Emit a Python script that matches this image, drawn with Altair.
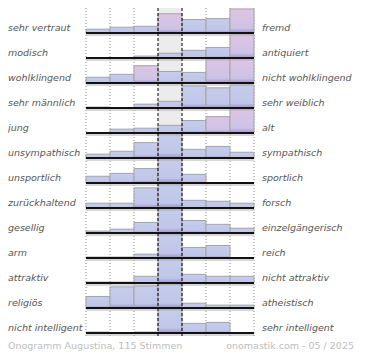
import altair as alt
import pandas as pd

left_labels = ["sehr vertraut", "modisch", "wohlklingend", "sehr männlich", " jung",
               "unsympathisch", "unsportlich", "zurückhaltend", "gesellig", "arm",
               "attraktiv", "religiös", "nicht intelligent"]
right_labels = ["fremd", "antiquiert", "nicht wohlklingend", "sehr weiblich", "alt",
                "sympathisch", "sportlich", "forsch", "einzelgängerisch", "reich",
                "nicht attraktiv", "atheistisch", "sehr intelligent"]

# estimated vote shares (%) for the 7 scale steps of each row
shares = [
    [4, 6, 7, 20, 14, 15, 34],
    [0, 0, 2, 5, 8, 11, 74],
    [6, 9, 18, 12, 11, 27, 27],
    [1, 0, 4, 7, 23, 21, 24],
    [0, 4, 5, 8, 13, 17, 53],
    [4, 7, 16, 47, 9, 12, 6],
    [7, 10, 15, 60, 9, 0, 0],
    [5, 5, 21, 49, 8, 7, 5],
    [2, 4, 11, 58, 13, 9, 5],
    [1, 1, 4, 70, 11, 13, 0],
    [1, 1, 7, 69, 9, 7, 7],
    [12, 22, 23, 32, 5, 3, 3],
    [1, 0, 1, 77, 10, 11, 0],
]
# bar tint: "p" = pinkish, "b" = bluish
tones = [
    ["b", "b", "b", "p", "b", "b", "p"],
    ["b", "b", "b", "b", "b", "b", "p"],
    ["b", "b", "p", "b", "b", "p", "p"],
    ["b", "b", "b", "b", "b", "b", "b"],
    ["b", "b", "b", "b", "b", "p", "p"],
    ["b", "b", "b", "b", "b", "b", "b"],
    ["b", "b", "b", "b", "b", "b", "b"],
    ["b", "b", "b", "b", "b", "b", "b"],
    ["b", "b", "b", "b", "b", "b", "b"],
    ["b", "b", "b", "b", "b", "b", "b"],
    ["b", "b", "b", "b", "b", "b", "b"],
    ["b", "b", "b", "b", "b", "b", "b"],
    ["b", "b", "b", "b", "b", "b", "b"],
]
footer_left = "Onogramm Augustina, 115 Stimmen"
footer_right = "onomastik.com - 05 / 2025"

n_rows = len(left_labels)
n_cols = len(shares[0])
mid = n_cols // 2
cap = 25  # share that fills one row

bars = pd.DataFrame([
    {"row": r, "col": c, "share": shares[r][c], "tone": tones[r][c]}
    for r in range(n_rows) for c in range(n_cols) if shares[r][c] > 0
])
rows_df = pd.DataFrame({"row": list(range(n_rows)), "left": left_labels,
                        "right": right_labels, "x0": 0, "x1": n_cols})
dotted_df = pd.DataFrame({"b": [b for b in range(n_cols + 1) if b not in (mid, mid + 1)]})
dashed_df = pd.DataFrame({"b": [mid, mid + 1]})
band_df = pd.DataFrame({"c0": [mid], "c1": [mid + 1], "r0": [0], "r1": [n_rows]})
foot_df = pd.DataFrame({"l": [footer_left], "r": [footer_right]})

xs = alt.Scale(domain=[0, n_cols], range=[78, 246], nice=False, zero=False)
ys = alt.Scale(domain=[0, n_rows], range=[0, 325], nice=False, zero=False)
FONT = "DejaVu Sans"

band = alt.Chart(band_df).mark_rect(color="#ececec").encode(
    x=alt.X("c0:Q", scale=xs, axis=None), x2="c1:Q",
    y=alt.Y("r0:Q", scale=ys, axis=None), y2="r1:Q")

dotted = alt.Chart(dotted_df).mark_rule(color="#8a8a8a", strokeDash=[1, 2], strokeWidth=1).encode(
    x=alt.X("b:Q", scale=xs, axis=None), y=alt.value(0), y2=alt.value(329))

def grad(top, mid_c):
    return alt.Gradient(gradient="linear", x1=0, x2=0, y1=0, y2=1, stops=[
        alt.GradientStop(color=top, offset=0),
        alt.GradientStop(color=mid_c, offset=0.8),
        alt.GradientStop(color="#9c8fcb", offset=1)])

def bar_layer(tone, top, mid_c):
    return alt.Chart(bars).transform_filter(alt.datum.tone == tone).transform_calculate(
        c1="datum.col + 1", base="datum.row + 1",
        top="datum.row + 1 - min(datum.share, %d) / 26" % cap,
    ).mark_rect(color=grad(top, mid_c), stroke="#a4a4a4", strokeWidth=1).encode(
        x=alt.X("col:Q", scale=xs, axis=None), x2="c1:Q",
        y=alt.Y("base:Q", scale=ys, axis=None), y2="top:Q")

blue = bar_layer("b", "#c6cceb", "#bfc6e8")
pink = bar_layer("p", "#dec4e4", "#cdc3e5")

base_shadow = alt.Chart(rows_df).transform_calculate(base="datum.row + 1").mark_rule(
    color="#b0b0b0", strokeWidth=1, yOffset=2).encode(
    x=alt.X("x0:Q", scale=xs, axis=None), x2="x1:Q", y=alt.Y("base:Q", scale=ys, axis=None))
base_line = alt.Chart(rows_df).transform_calculate(base="datum.row + 1").mark_rule(
    color="#111111", strokeWidth=2).encode(
    x=alt.X("x0:Q", scale=xs, axis=None), x2="x1:Q", y=alt.Y("base:Q", scale=ys, axis=None))

dashed = alt.Chart(dashed_df).mark_rule(color="#000000", strokeDash=[3, 2], strokeWidth=1).encode(
    x=alt.X("b:Q", scale=xs, axis=None), y=alt.value(0), y2=alt.value(329))

ltext = alt.Chart(rows_df).transform_calculate(base="datum.row + 1").mark_text(
    align="left", baseline="alphabetic", dy=-2, font=FONT, fontSize=9.5,
    fontStyle="italic", color="#555555").encode(
    x=alt.value(0), y=alt.Y("base:Q", scale=ys, axis=None), text="left:N")
rtext = alt.Chart(rows_df).transform_calculate(base="datum.row + 1").mark_text(
    align="left", baseline="alphabetic", dy=-2, font=FONT, fontSize=9.5,
    fontStyle="italic", color="#555555").encode(
    x=alt.value(254), y=alt.Y("base:Q", scale=ys, axis=None), text="right:N")

fl = alt.Chart(foot_df).mark_text(align="left", baseline="alphabetic", font=FONT,
                                  fontSize=9.5, color="#bdbdbd").encode(
    x=alt.value(0), y=alt.value(341), text="l:N")
fr = alt.Chart(foot_df).mark_text(align="right", baseline="alphabetic", font=FONT,
                                  fontSize=9.5, color="#bdbdbd").encode(
    x=alt.value(346), y=alt.value(341), text="r:N")

chart = alt.layer(band, dotted, blue, pink, base_shadow, base_line, dashed,
                  ltext, rtext, fl, fr).properties(
    width=354, height=344, padding=0,
    autosize=alt.AutoSizeParams(type="none"),
).configure_view(stroke=None)

chart.save("out.html", embed_options={"renderer": "svg", "actions": False})
